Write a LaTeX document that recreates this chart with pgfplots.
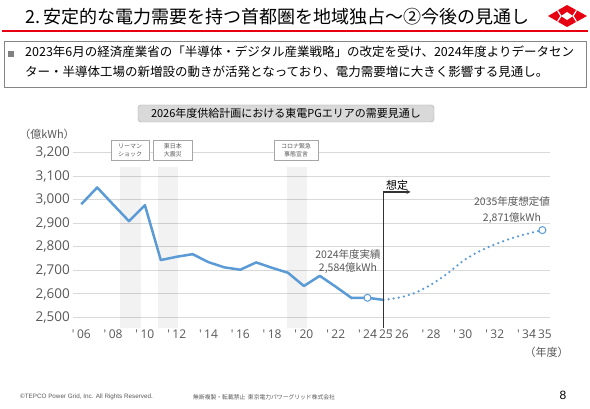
\documentclass[border=0pt]{standalone}
\usepackage{fontspec}
\setmainfont{Noto Sans CJK JP}
\newfontfamily\lsans{Liberation Sans}
\newfontfamily\tickfont{Open Sans}
\usepackage{pgfplots}
\pgfplotsset{compat=1.18}
\usetikzlibrary{arrows.meta}
\definecolor{blueA}{RGB}{91,155,213}
\definecolor{gridC}{RGB}{217,217,217}
\definecolor{bandC}{RGB}{242,242,242}
\definecolor{txtG}{RGB}{89,89,89}
\definecolor{tepcoRed}{RGB}{230,0,18}
\definecolor{boxG}{RGB}{166,166,166}
\newcommand{\yr}[1]{'\hspace{2.5pt}#1}
\begin{document}
\begin{tikzpicture}[x=1pt,y=1pt]
\fill[white] (0,0) rectangle (590,408);
% ---- header
\node[anchor=base west, inner sep=0, font=\fontsize{18}{18}\selectfont] at (25,384) {2.\,安定的な電力需要を持つ首都圏を地域独占～②今後の見通し};
\draw[tepcoRed, line width=1.5pt] (2,377) -- (588,377);
% logo
\fill[tepcoRed] (548,392) -- (567,403) -- (587,392) -- (567,381) -- cycle;
\fill[white] (561,392) -- (567,396) -- (573,392) -- (567,388) -- cycle;
\draw[white, line width=1.2pt] (557.5,386.5) -- (561,392) -- (557.5,397.5);
\draw[white, line width=1.2pt] (576.5,386.5) -- (573,392) -- (576.5,397.5);
% text box
\draw[boxG!80!black, line width=0.8pt] (4,367) rectangle (586,321);
\fill[gray] (8,351) rectangle (14,357);
\node[anchor=base west, inner sep=0, font=\fontsize{12.5}{12.5}\selectfont] at (25,351) {2023年6月の経済産業省の「半導体・デジタル産業戦略」の改定を受け、2024年度よりデータセン};
\node[anchor=base west, inner sep=0, font=\fontsize{12.5}{12.5}\selectfont] at (25,331) {ター・半導体工場の新増設の動きが活発となっており、電力需要増に大きく影響する見通し。};
% chart title
\draw[rounded corners=3pt, fill=gray!30, draw=boxG] (138,303) rectangle (434,286);
\node[font=\fontsize{11}{11}\selectfont] at (286,294.5) {2026年度供給計画における東電PGエリアの需要見通し};
\node[font=\fontsize{11}{11}\selectfont, text=txtG] at (47,274) {（億kWh）};
% ---- axis
\begin{axis}[
  at={(73.35pt,80.3pt)}, anchor=south west,
  width=477pt, height=175.1pt, scale only axis,
  clip=false,
  xmin=2005.5, xmax=2035.5, ymin=2457, ymax=3200,
  axis line style={draw=none}, major tick length=0pt,
  ytick={2500,2600,2700,2800,2900,3000,3100,3200},
  ymajorgrids, grid style={gridC, line width=1pt},
  xtick={2006,2008,2010,2012,2014,2016,2018,2020,2022,2024,2025,2026,2028,2030,2032,2034,2035},
  xticklabels={{\yr{06}},{\yr{08}},{\yr{10}},{\yr{12}},{\yr{14}},{\yr{16}},{\yr{18}},{\yr{20}},{\yr{22}},{\yr{24}},{\yr{25}},{\yr{26}},{\yr{28}},{\yr{30}},{\yr{32}},{\yr{34}},{\yr{35}}},
  yticklabel style={font=\tickfont\fontsize{13.5}{13.5}\selectfont, text=txtG},
  xticklabel style={font=\tickfont\fontsize{12}{12}\selectfont, text=txtG, yshift=1pt},
  /pgf/number format/assume math mode=true,
  /pgf/number format/1000 sep={,},
]
% bands
\addplot[fill=black, fill opacity=0.05, draw=none] coordinates {(2008.43,2457) (2009.73,2457) (2009.73,3137) (2008.43,3137)};
\addplot[fill=black, fill opacity=0.05, draw=none] coordinates {(2010.8,2457) (2012.06,2457) (2012.06,3137) (2010.8,3137)};
\addplot[fill=black, fill opacity=0.05, draw=none] coordinates {(2018.96,2457) (2020.22,2457) (2020.22,3137) (2018.96,3137)};
% actual
\addplot[blueA, line width=2.5pt, line join=round] coordinates {
(2006,2981) (2007,3052) (2008,2980) (2009,2909) (2010,2977) (2011,2744) (2012,2758) (2013,2769) (2014,2735) (2015,2713) (2016,2703) (2017,2734) (2018,2711) (2019,2690) (2020,2634) (2021,2677) (2022,2631) (2023,2583) (2024,2584) (2025,2575)};
% forecast
\addplot[blueA, line width=2.5pt, line cap=round, dash pattern=on 0pt off 5.2pt, smooth] coordinates {
(2025,2575) (2026,2585) (2027,2605) (2028,2640) (2029,2685) (2030,2740) (2031,2780) (2032,2810) (2033,2835) (2034,2855) (2035,2871)};
% marker points
\addplot[only marks, mark=*, mark size=3.5pt, mark options={fill=white, draw=blueA, line width=1pt}] coordinates {(2024,2584) (2035,2871)};
% assumption line
\addplot[black!80, line width=1.5pt] coordinates {(2025,2457) (2025,3033)};
\addplot[black!80, line width=1.2pt, -{Stealth[length=4pt,width=4pt]}] coordinates {(2025,3033) (2026.7,3033)};
\end{axis}
% event boxes
\node[draw=boxG, fill=white, minimum width=38pt, minimum height=20pt, inner sep=0, align=center, font=\fontsize{6}{8}\selectfont, text=txtG] at (130,258) {リーマン\\ショック};
\node[draw=boxG, fill=white, minimum width=39pt, minimum height=20pt, inner sep=0, align=center, font=\fontsize{6}{8}\selectfont, text=txtG] at (172.8,258) {東日本\\大震災};
\node[draw=boxG, fill=white, minimum width=44pt, minimum height=20pt, inner sep=0, align=center, font=\fontsize{6}{8}\selectfont, text=txtG] at (296,258) {コロナ緊急\\事態宣言};
% annotations
\node[font=\fontsize{11}{11}\selectfont] at (397,223) {想定};
\node[font=\fontsize{10.5}{10.5}\selectfont, text=txtG] at (512,206.3) {2035年度想定値};
\node[font=\fontsize{10.5}{10.5}\selectfont, text=txtG] at (512,190) {2,871億kWh};
\node[font=\fontsize{10.5}{10.5}\selectfont, text=txtG] at (348,153.7) {2024年度実績};
\node[font=\fontsize{10.5}{10.5}\selectfont, text=txtG] at (348,140.3) {2,584億kWh};
\node[font=\fontsize{11}{11}\selectfont, text=txtG] at (546.7,56) {（年度）};
% footer
\node[anchor=west, inner sep=0, font=\lsans\fontsize{6.3}{6.3}\selectfont, text=txtG] at (20,11) {©TEPCO Power Grid, Inc. All Rights Reserved.};
\node[anchor=west, inner sep=0, font=\fontsize{5.8}{5.8}\selectfont, text=txtG] at (193,11) {無断複製・転載禁止\ \ 東京電力パワーグリッド株式会社};
\node[font=\lsans\fontsize{12}{12}\selectfont] at (563,13) {8};
\path (0,0) rectangle (590,408);
\end{tikzpicture}
\end{document}
